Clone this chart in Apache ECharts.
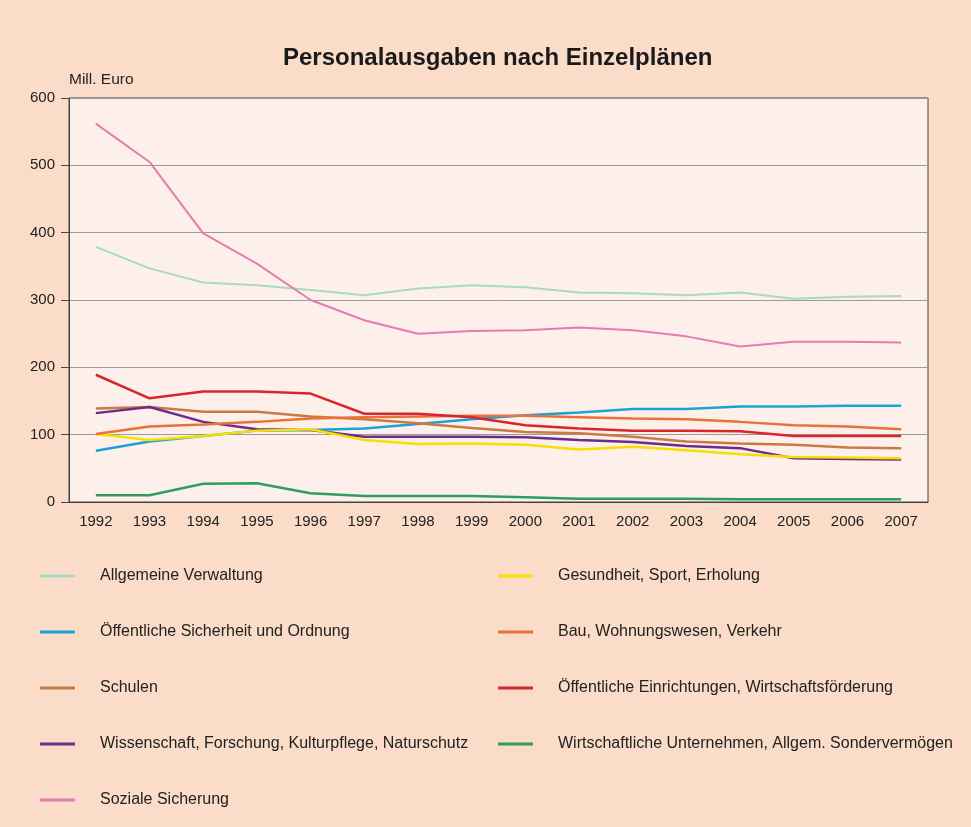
<!DOCTYPE html>
<html>
<head>
<meta charset="utf-8">
<script src="https://cdn.jsdelivr.net/npm/echarts@6/dist/echarts.min.js"></script>
<style>
html,body{margin:0;padding:0;background:#fadcc8;}
#chart{width:971px;height:827px;}
</style>
</head>
<body>
<div id="chart"></div>
<script>
const years = ['1992','1993','1994','1995','1996','1997','1998','1999','2000','2001','2002','2003','2004','2005','2006','2007'];
const yTicks = [0, 100, 200, 300, 400, 500, 600];

const allgemeineVerwaltung = [379, 347, 326, 322, 315, 307, 317, 322, 319, 311, 310, 307, 311, 302, 305, 306];
const oeffentlicheSicherheit = [76, 90, 98, 106, 107, 109, 116, 123, 129, 133, 138, 138, 142, 142, 143, 143];
const schulen = [139, 141, 134, 134, 127, 123, 117, 110, 104, 102, 97, 90, 87, 85, 81, 80];
const wissenschaft = [132, 141, 119, 108, 107, 97, 97, 97, 96, 92, 89, 83, 80, 65, 64, 63];
const sozialeSicherung = [562, 505, 399, 354, 300, 270, 250, 254, 255, 259, 255, 246, 231, 238, 238, 237];
const gesundheit = [101, 92, 98, 106, 108, 92, 86, 87, 85, 78, 82, 77, 71, 67, 66, 65];
const bau = [101, 112, 115, 119, 124, 126, 127, 128, 128, 126, 124, 123, 119, 114, 112, 108];
const oeffentlicheEinrichtungen = [189, 154, 164, 164, 161, 131, 131, 126, 114, 109, 106, 106, 105, 98, 98, 98];
const wirtschaftliche = [10, 10, 27, 28, 13, 9, 9, 9, 7, 5, 5, 5, 4, 4, 4, 4];

const seriesDefs = [
  {name: 'Allgemeine Verwaltung', data: allgemeineVerwaltung, color: '#a9d9c2', width: 2},
  {name: 'Öffentliche Sicherheit und Ordnung', data: oeffentlicheSicherheit, color: '#1ba3d8', width: 2.5},
  {name: 'Schulen', data: schulen, color: '#c97b44', width: 2.5},
  {name: 'Wissenschaft, Forschung, Kulturpflege, Naturschutz', data: wissenschaft, color: '#6b2c8c', width: 2.5},
  {name: 'Soziale Sicherung', data: sozialeSicherung, color: '#e47cb0', width: 2},
  {name: 'Gesundheit, Sport, Erholung', data: gesundheit, color: '#f7e000', width: 2.5},
  {name: 'Bau, Wohnungswesen, Verkehr', data: bau, color: '#e8723a', width: 2.5},
  {name: 'Öffentliche Einrichtungen, Wirtschaftsförderung', data: oeffentlicheEinrichtungen, color: '#d8262c', width: 2.5},
  {name: 'Wirtschaftliche Unternehmen, Allgem. Sondervermögen', data: wirtschaftliche, color: '#2f9e5c', width: 2.5}
];

const chart = echarts.init(document.getElementById('chart'), null, {renderer: 'canvas'});

const FONT = 'Liberation Sans, Arial, sans-serif';
const legendText = {fontSize: 16, color: '#222', fontFamily: FONT, padding: [0, 0, 0, 20]};

const option = {
  backgroundColor: '#fadcc8',
  animation: false,
  textStyle: {fontFamily: FONT},
  title: {
    text: 'Personalausgaben nach Einzelplänen',
    left: 283,
    top: 46,
    padding: 0,
    textStyle: {fontSize: 24, fontWeight: 'bold', color: '#1a1a1a', fontFamily: FONT}
  },
  graphic: [{
    type: 'text', left: 69, top: 72,
    style: {text: 'Mill. Euro', fontSize: 15.5, fill: '#222', fontFamily: FONT}
  }],
  legend: [
    {
      orient: 'vertical', left: 40, top: 568, itemGap: 40, padding: 0,
      itemWidth: 35, itemHeight: 3, icon: 'rect',
      data: seriesDefs.slice(0, 5).map(s => s.name),
      textStyle: legendText, selectedMode: false
    },
    {
      orient: 'vertical', left: 498, top: 568, itemGap: 40, padding: 0,
      itemWidth: 35, itemHeight: 3, icon: 'rect',
      data: seriesDefs.slice(5).map(s => s.name),
      textStyle: legendText, selectedMode: false
    }
  ],
  grid: {left: 69, right: 43, top: 98, bottom: 325, show: true, backgroundColor: '#fdf0ea', borderColor: '#444', borderWidth: 1},
  xAxis: {
    type: 'category', data: years, boundaryGap: true,
    axisLine: {lineStyle: {color: '#444', width: 1}},
    axisTick: {show: false},
    axisLabel: {fontSize: 15, color: '#222', margin: 12}
  },
  yAxis: {
    type: 'value', min: yTicks[0], max: yTicks[yTicks.length - 1], interval: 100,
    axisLine: {show: true, lineStyle: {color: '#444', width: 1}},
    axisTick: {show: true, length: 8, lineStyle: {color: '#444'}},
    axisLabel: {fontSize: 15, color: '#222', margin: 14},
    splitLine: {lineStyle: {color: '#9a9a9a', width: 1}}
  },
  series: seriesDefs.map(s => ({
    name: s.name, type: 'line', data: s.data,
    symbol: 'none', smooth: false,
    lineStyle: {color: s.color, width: s.width},
    itemStyle: {color: s.color}
  }))
};
chart.setOption(option);
</script>
</body>
</html>
